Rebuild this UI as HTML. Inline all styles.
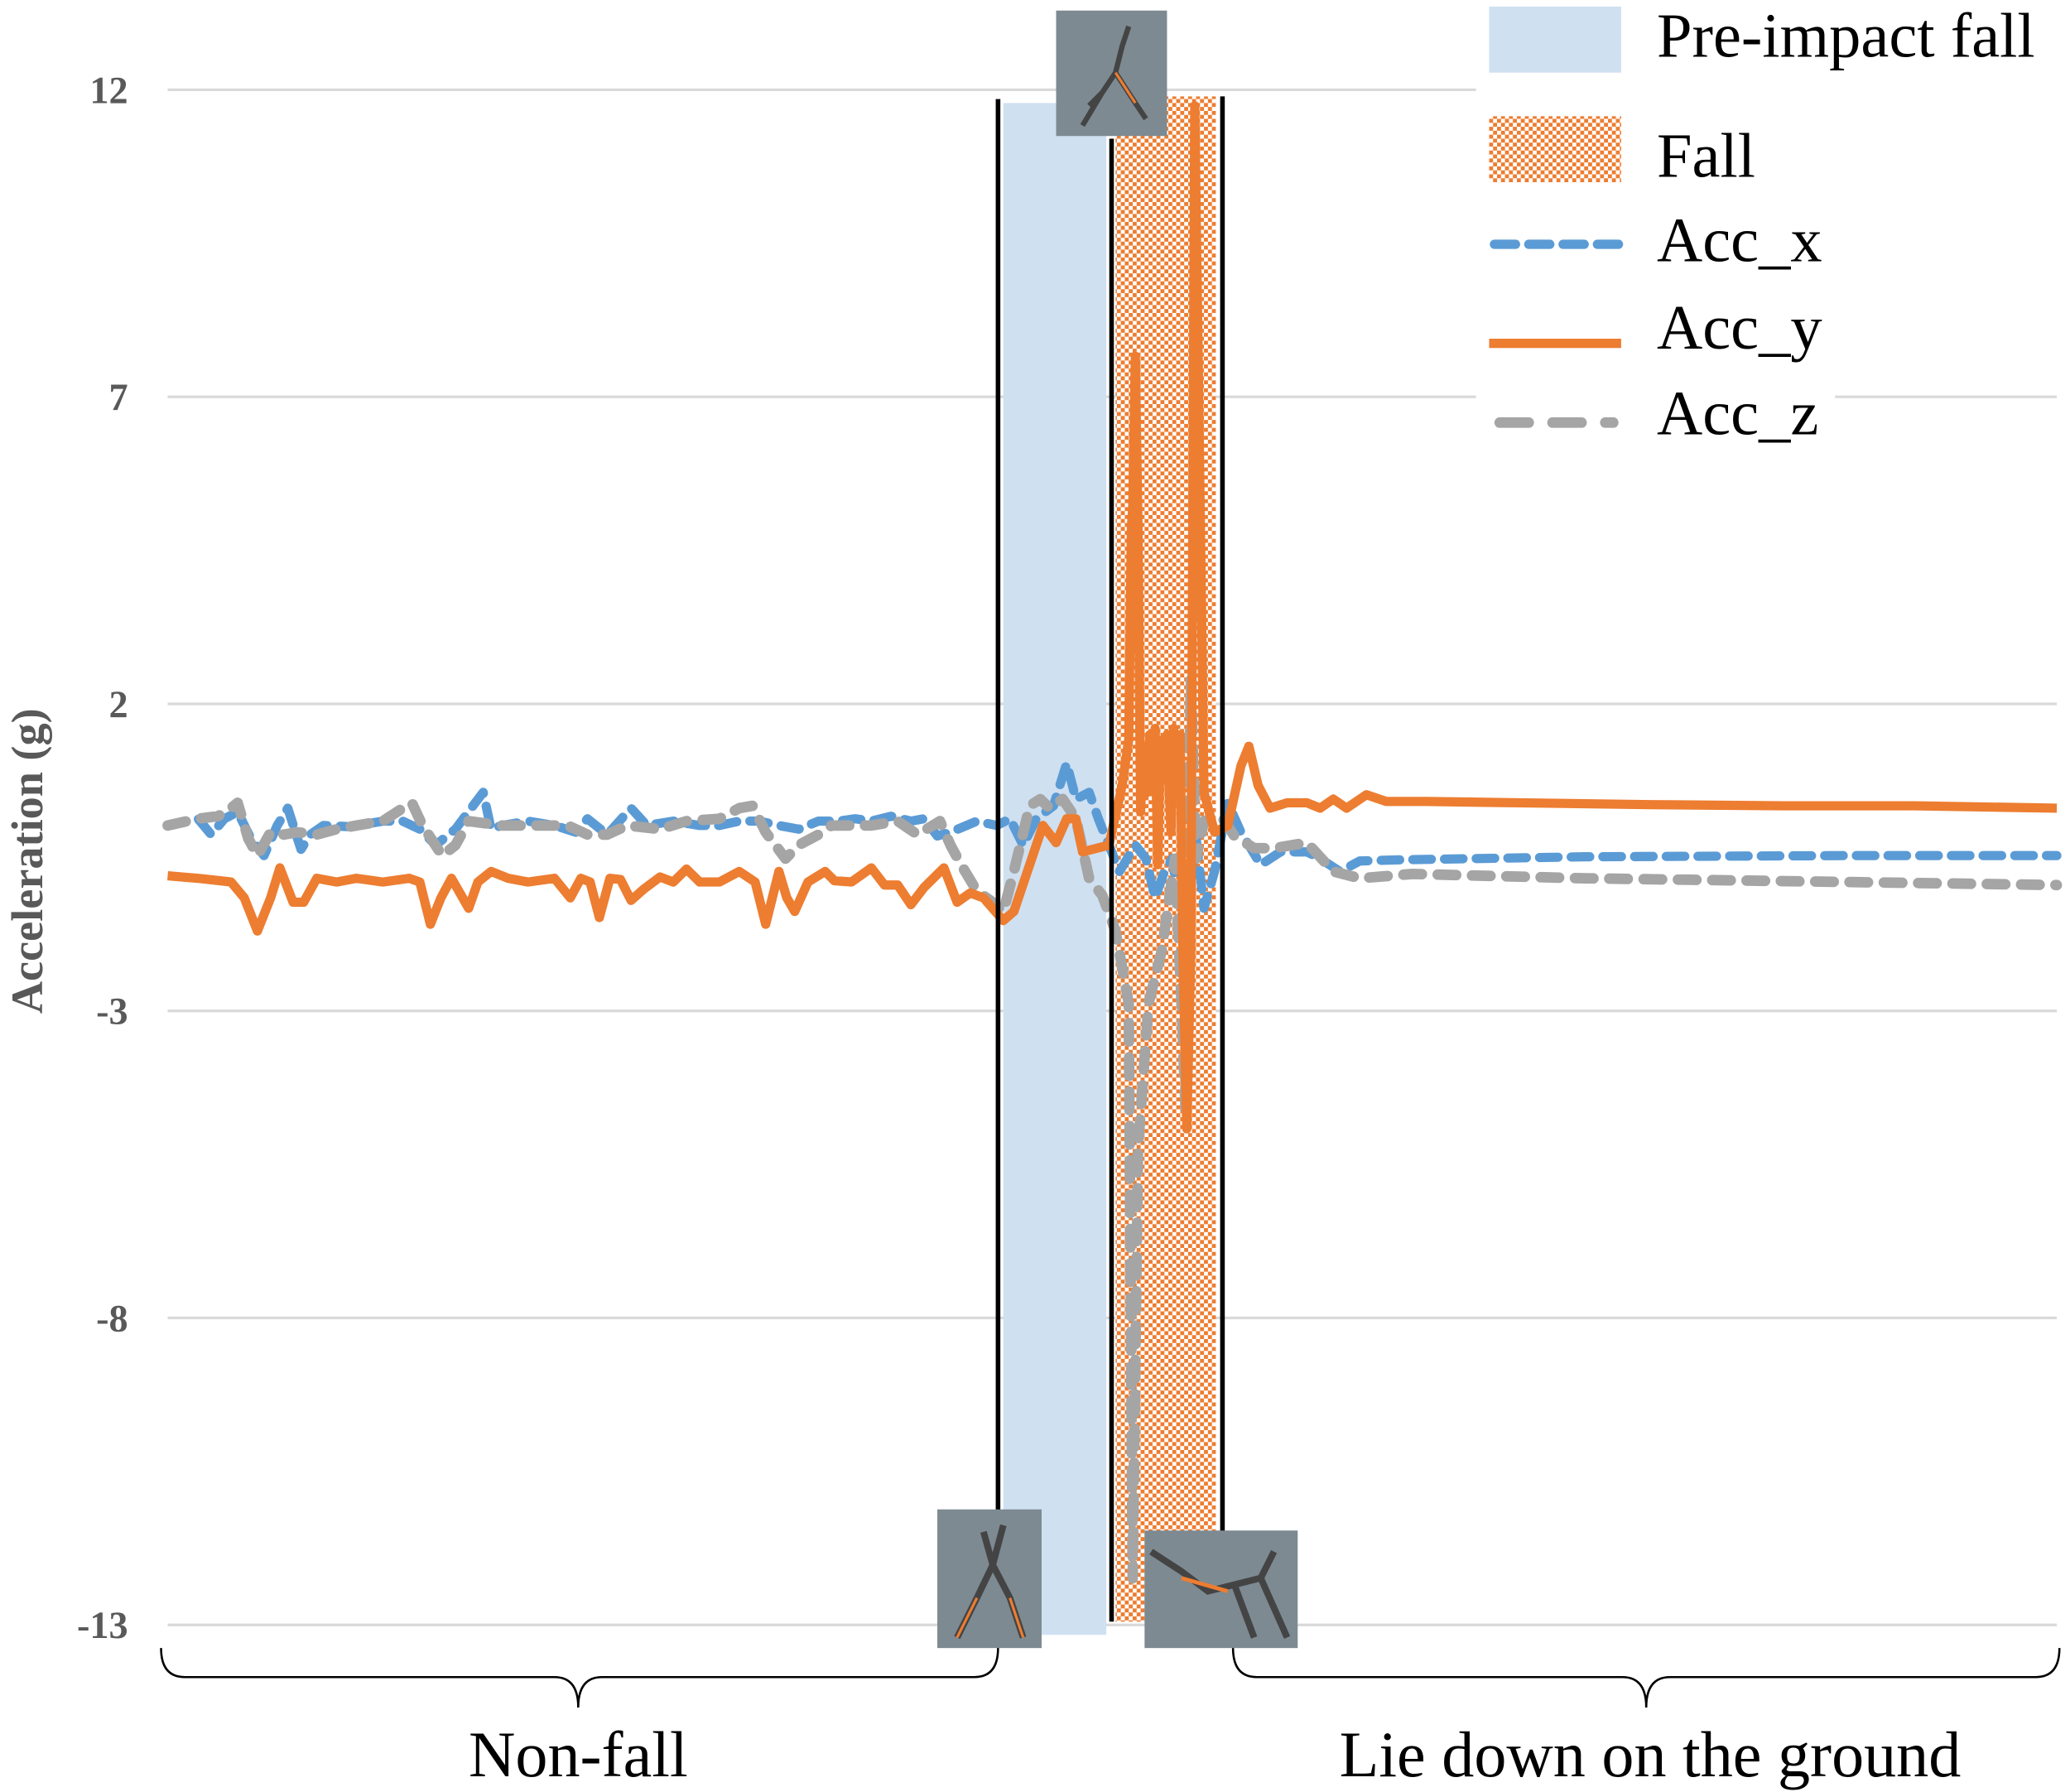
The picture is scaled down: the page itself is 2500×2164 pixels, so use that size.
<!DOCTYPE html>
<html><head><meta charset="utf-8"><style>
html,body{margin:0;padding:0;background:#fff}
svg{display:block}
text{font-family:"Liberation Serif",serif}
</style></head><body>
<svg id="chart" width="2500" height="2164" viewBox="0 0 1568 1357" preserveAspectRatio="none" xmlns="http://www.w3.org/2000/svg">
<defs>
<pattern id="fallPat" width="6" height="6" patternUnits="userSpaceOnUse">
<rect width="6" height="6" fill="#fff"/><rect width="3" height="3" fill="#ED7D31"/><rect x="3" y="3" width="3" height="3" fill="#ED7D31"/>
</pattern>
</defs>
<g id="grid"></g>
<g id="ylabels"></g>
<text transform="translate(32,652) rotate(-90)" text-anchor="middle" font-size="34" font-weight="bold" fill="#595959">Acceleration (g)</text>
<rect x="760" y="78" width="78" height="1160" fill="#CFE0F1"/>
<rect x="845" y="73" width="76" height="1155" fill="url(#fallPat)"/>
<g id="series"></g>
<line x1="756" y1="75" x2="756" y2="1245" stroke="#000" stroke-width="3.5"/>
<line x1="842" y1="105" x2="842" y2="1228" stroke="#000" stroke-width="3.5"/>
<line x1="926" y1="73" x2="926" y2="1160" stroke="#000" stroke-width="3.5"/>
<g>
<rect x="800" y="8" width="84" height="95" fill="#7d8a92"/>
<path d="M820,95 L835,70 L845,55 L850,35 L855,20 M845,55 L860,78 L868,90 M835,70 L825,80" stroke="#444" stroke-width="4" fill="none"/>
<path d="M845,55 L860,78" stroke="#ED7D31" stroke-width="2" fill="none"/>
</g>
<g>
<rect x="710" y="1143" width="79" height="105" fill="#7d8a92"/>
<path d="M760,1155 L752,1185 L740,1210 L725,1240 M752,1185 L765,1210 L775,1240 M752,1185 L745,1160" stroke="#444" stroke-width="5" fill="none"/>
<path d="M740,1210 L725,1240 M765,1210 L775,1240" stroke="#ED7D31" stroke-width="2" fill="none"/>
</g>
<g>
<rect x="867" y="1159" width="116" height="89" fill="#7d8a92"/>
<path d="M872,1175 L895,1190 L915,1205 L935,1200 L955,1195 L965,1175 M955,1195 L975,1240 M935,1200 L950,1240" stroke="#444" stroke-width="5" fill="none"/>
<path d="M895,1195 L930,1205" stroke="#ED7D31" stroke-width="3" fill="none"/>
</g>
<g>
<rect x="1118" y="0" width="450" height="75" fill="#fff"/>
<rect x="1118" y="75" width="272" height="270" fill="#fff"/>
<g>
<rect x="1128" y="5" width="100" height="50" fill="#CFE0F1"/>
<text x="1255" y="43" font-size="48" fill="#000">Pre-impact fall</text></g>
<g>
<rect x="1128" y="88" width="100" height="50" fill="url(#fallPat)"/>
<text x="1255" y="134" font-size="48" fill="#000">Fall</text></g>
<g>
<line x1="1132" y1="185" x2="1226" y2="185" stroke="#5B9BD5" stroke-width="7" stroke-dasharray="16,10" stroke-linecap="round"/>
<text x="1255" y="198" font-size="48" fill="#000">Acc_x</text></g>
<g>
<line x1="1128" y1="260" x2="1228" y2="260" stroke="#ED7D31" stroke-width="7"/>
<text x="1255" y="264" font-size="48" fill="#000">Acc_y</text></g>
<g>
<line x1="1136" y1="320" x2="1222" y2="320" stroke="#A5A5A5" stroke-width="8" stroke-dasharray="22,18" stroke-linecap="round"/>
<text x="1255" y="329" font-size="48" fill="#000">Acc_z</text></g>
</g>
<path d="M122,1248 Q122,1270 140,1270 L420,1270 Q438,1270 438,1293 Q438,1270 456,1270 L738,1270 Q756,1270 756,1248" stroke="#000" stroke-width="1.6" fill="none"/>
<path d="M934,1248 Q934,1270 952,1270 L1229,1270 Q1247,1270 1247,1293 Q1247,1270 1265,1270 L1542,1270 Q1560,1270 1560,1248" stroke="#000" stroke-width="1.6" fill="none"/>
<text x="438" y="1345" font-size="49" text-anchor="middle">Non-fall</text>
<text x="1250" y="1345" font-size="49" text-anchor="middle">Lie down on the ground</text>
</svg>
<script>
const yTicks=[12,7,2,-3,-8,-13];
const tY=[0,23,48,58,68,78,85,95,103,113,128,143,163,183,191,199,207,215,228,235,245,258,273,293,305,313,320,327,335,343,351,361,373,383,393,403,418,433,445,453,463,469,475,485,498,505,518,533,543,553,563,573,588,598,608,618,633,641,663,673,681,688,693,713,723,728,730,731,733,735,737,739,742,744,746,748,750,752,755,757,760,762,765,767,769,772,775,778,781,785,793,803,813,819,826,835,848,863,873,883,893,908,923,953,1023,1123,1223,1323,1431];
const accY=[-0.80,-0.84,-0.90,-1.16,-1.70,-1.16,-0.67,-1.23,-1.23,-0.84,-0.90,-0.84,-0.90,-0.84,-0.90,-1.59,-1.16,-0.84,-1.33,-0.90,-0.73,-0.84,-0.90,-0.84,-1.16,-0.84,-0.90,-1.48,-0.84,-0.86,-1.20,-1.01,-0.82,-0.90,-0.69,-0.90,-0.90,-0.73,-0.90,-1.59,-0.73,-1.16,-1.38,-0.90,-0.73,-0.88,-0.90,-0.67,-0.95,-0.95,-1.27,-0.99,-0.67,-1.23,-1.08,-1.16,-1.53,-1.38,0.02,-0.26,0.13,0.13,-0.41,-0.30,0.67,1.42,4.86,5.20,7.66,4.90,0.24,1.30,0.56,1.50,0.99,1.60,-0.62,1.40,0.77,1.50,-0.09,1.60,0.56,1.50,-2.02,-4.92,-2.02,11.74,7.01,0.56,-0.09,0.02,0.99,1.31,0.67,0.30,0.39,0.39,0.30,0.45,0.30,0.52,0.41,0.41,0.39,0.36,0.34,0.34,0.30];
const tX=[0,23,33,43,53,63,73,83,91,101,108,118,138,163,178,191,203,218,233,239,245,253,273,293,309,318,333,351,363,383,403,418,433,448,463,478,493,508,521,533,548,563,573,583,593,613,628,638,648,658,671,681,688,698,705,713,721,733,741,748,755,761,768,773,778,785,793,803,813,828,843,863,873,888,903,933,1073,1273,1431];
const accX=[0.02,0.13,-0.13,0.13,0.24,-0.19,-0.47,0.02,0.30,-0.37,-0.13,0.02,0.00,0.09,0.09,-0.04,-0.30,-0.04,0.39,0.56,-0.04,0.02,0.09,0.02,-0.09,0.13,-0.13,0.30,0.02,0.09,0.02,0.02,0.09,0.09,0.02,-0.04,0.09,0.09,0.13,0.09,0.17,0.09,0.13,-0.15,-0.09,0.09,0.02,0.13,-0.30,0.13,0.34,1.03,0.45,0.56,0.13,-0.30,-0.73,-0.30,-0.52,-1.16,-0.73,-0.52,-1.59,-1.59,0.02,-1.33,-0.73,0.39,-0.09,-0.62,-0.41,-0.41,-0.52,-0.73,-0.56,-0.54,-0.49,-0.47,-0.47];
const tZ=[0,23,38,48,53,61,68,78,88,98,113,128,143,163,178,185,193,208,218,228,253,273,303,318,333,348,373,393,418,433,443,453,468,478,493,503,518,533,553,568,585,593,601,613,623,633,641,653,661,668,678,688,698,708,718,728,731,735,743,753,763,768,771,775,779,785,798,808,823,838,863,883,903,943,1073,1273,1431];
const accZ=[0.02,0.13,0.17,0.30,0.39,-0.19,-0.47,-0.09,-0.13,-0.09,-0.13,-0.04,0.02,0.09,0.30,0.39,0.02,-0.47,-0.30,0.09,0.02,0.02,0.02,-0.13,-0.13,0.02,-0.04,0.09,0.13,0.30,0.34,-0.09,-0.52,-0.30,-0.13,0.02,0.02,0.02,0.09,-0.13,0.09,-0.30,-0.62,-1.05,-1.20,-1.38,-0.73,0.34,0.45,0.30,0.45,0.13,-0.84,-1.12,-1.70,-2.88,-12.24,-5.25,-2.88,-2.02,-0.52,-2.88,-4.60,2.39,-0.52,0.09,0.17,-0.15,-0.35,-0.35,-0.26,-0.73,-0.84,-0.77,-0.84,-0.90,-0.95];

const NS='http://www.w3.org/2000/svg';
const X0=127,X1=1558,T1=1431;
function xS(t){return X0+(t/T1)*(X1-X0);}
function yS(v){return 533-(v-2)*46.5;}
const grid=document.getElementById('grid'),yl=document.getElementById('ylabels'),series=document.getElementById('series');
yTicks.forEach(v=>{
  const l=document.createElementNS(NS,'line');
  
  
  l.setAttribute('x1',X0);l.setAttribute('x2',X1);l.setAttribute('y1',yS(v));l.setAttribute('y2',yS(v));
  l.setAttribute('stroke','#d9d9d9');l.setAttribute('stroke-width','2');
  grid.appendChild(l);
  const t=document.createElementNS(NS,'text');
  
  
  t.setAttribute('x',97);t.setAttribute('y',yS(v)+10);t.setAttribute('text-anchor','end');
  t.setAttribute('font-size','29');t.setAttribute('font-weight','bold');t.setAttribute('fill','#595959');
  t.textContent=String(v);
  yl.appendChild(t);
});
function addLine(ts,vs,color,w,dash,name){
  const p=document.createElementNS(NS,'polyline');
  
  
  p.setAttribute('points',ts.map((t,i)=>xS(t).toFixed(1)+','+yS(vs[i]).toFixed(1)).join(' '));
  p.setAttribute('fill','none');p.setAttribute('stroke',color);p.setAttribute('stroke-width',w);
  p.setAttribute('stroke-linejoin','round');
  if(dash){p.setAttribute('stroke-dasharray',dash);p.setAttribute('stroke-linecap','round');}
  series.appendChild(p);
}
addLine(tX,accX,'#5B9BD5',7,'14,10','acc-x-line');
addLine(tZ,accZ,'#A5A5A5',8,'14,12','acc-z-line');
addLine(tY,accY,'#ED7D31',7,null,'acc-y-line');
</script>
</body></html>
